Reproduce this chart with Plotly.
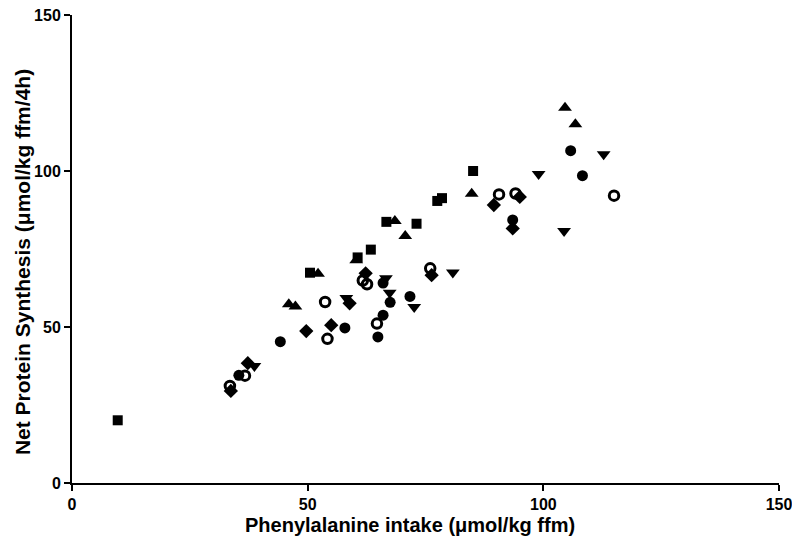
import plotly.graph_objects as go

# ── Data (x: Phe intake, y: net protein synthesis) ──
sq_x = [9.7, 50.5, 60.6, 63.4, 66.7, 73.1, 77.5, 78.5, 85.1]
sq_y = [20.1, 67.4, 72.3, 74.8, 83.7, 83.1, 90.4, 91.3, 100.0]

tu_x = [46.0, 47.4, 52.2, 60.3, 68.5, 70.7, 84.8, 104.6, 106.8]
tu_y = [57.3, 56.6, 67.1, 71.4, 84.0, 79.2, 92.7, 120.3, 115.0]

td_x = [38.7, 58.2, 66.6, 67.4, 72.6, 80.8, 99.0, 104.4, 112.8]
td_y = [37.5, 59.3, 65.6, 61.0, 56.4, 67.5, 99.0, 80.8, 105.4]

di_x = [33.7, 37.3, 49.7, 55.0, 58.9, 62.3, 76.3, 89.5, 93.5, 95.0]
di_y = [29.5, 38.4, 48.7, 50.6, 57.6, 67.2, 66.6, 89.1, 81.6, 91.7]

fc_x = [35.4, 44.2, 57.9, 64.9, 66.0, 66.0, 67.5, 71.7, 93.5, 105.8, 108.3]
fc_y = [34.5, 45.3, 49.7, 46.8, 53.8, 64.1, 57.9, 59.8, 84.3, 106.5, 98.5]

oc_x = [33.5, 36.7, 53.7, 54.2, 61.7, 62.6, 64.7, 76.0, 90.6, 94.1, 115.0]
oc_y = [31.1, 34.4, 58.0, 46.2, 64.9, 63.7, 51.1, 68.8, 92.5, 92.8, 92.1]

ticks = [0, 50, 100, 150]
tick_text = ["<b>%d</b>" % t for t in ticks]

FONT = "Liberation Sans, Arial, sans-serif"
BLACK = "#000000"

fig = go.Figure()


def add_series(xs, ys, symbol, size, line_w=0):
    fig.add_trace(go.Scatter(
        x=xs, y=ys, mode="markers",
        marker=dict(symbol=symbol, size=size, color=BLACK,
                    line=dict(color=BLACK, width=line_w)),
        showlegend=False, cliponaxis=False,
    ))


add_series(sq_x, sq_y, "square", 10)
add_series(tu_x, tu_y, "triangle-up", 12)
add_series(td_x, td_y, "triangle-down", 12)
add_series(di_x, di_y, "diamond", 11)
add_series(fc_x, fc_y, "circle", 11)
add_series(oc_x, oc_y, "circle-open", 9.5, line_w=3)

axis_common = dict(
    range=[0, 150], tickvals=ticks, ticktext=tick_text,
    showline=True, linecolor=BLACK, linewidth=2,
    ticks="outside", ticklen=6, tickwidth=2, tickcolor=BLACK,
    showgrid=False, zeroline=False, automargin=False,
    ticklabeloverflow="allow",
    tickfont=dict(family=FONT, size=16, color=BLACK),
)
fig.update_xaxes(**axis_common)
fig.update_yaxes(**axis_common)

# axis titles as annotations so they sit where the reference has them
fig.add_annotation(
    text="<b>Phenylalanine intake (μmol/kg ffm)</b>",
    xref="paper", yref="paper", x=0.478, y=0, yshift=-42,
    xanchor="center", yanchor="middle", showarrow=False,
    font=dict(family=FONT, size=20, color=BLACK),
)
fig.add_annotation(
    text="<b>Net Protein Synthesis (μmol/kg ffm/4h)</b>",
    xref="paper", yref="paper", x=0, y=0.472, xshift=-50,
    xanchor="center", yanchor="middle", textangle=-90, showarrow=False,
    font=dict(family=FONT, size=21, color=BLACK),
)

# page body keeps an 8px margin, so the figure is sized to fit inside it
fig.update_layout(
    width=784, height=530,
    margin=dict(l=64, r=13, t=7, b=55),
    plot_bgcolor="white", paper_bgcolor="white",
)

fig.write_html("out.html")
